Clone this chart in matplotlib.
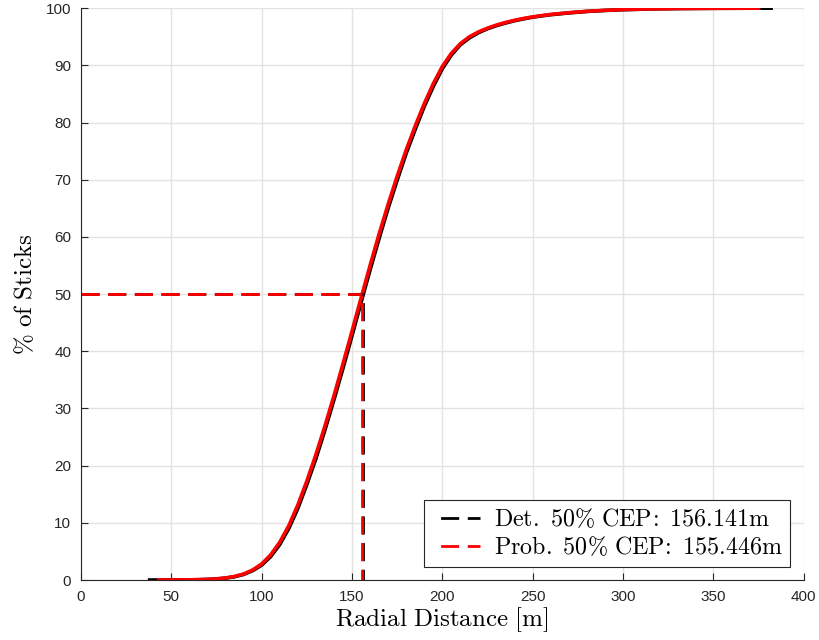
import matplotlib
matplotlib.use("Agg")
import matplotlib.pyplot as plt

plt.rcParams['mathtext.fontset'] = 'cm'
plt.rcParams['font.family'] = ['Liberation Sans', 'DejaVu Sans']

# CDF curves (radial distance [m], % of sticks)
det_x = [37, 50, 60, 65, 70, 75, 80, 85, 90, 95, 100, 105, 110, 115, 120, 125, 130,
         135, 140, 145, 150, 155, 160, 165, 170, 175, 180, 185, 190, 195, 200, 205,
         210, 215, 220, 225, 230, 235, 240, 245, 250, 255, 260, 270, 280, 290, 300,
         315, 330, 350, 383]
det_y = [0, 0.01, 0.03, 0.05, 0.1, 0.18, 0.33, 0.57, 0.97, 1.63, 2.6, 4.1, 6.2, 9.0,
         12.5, 16.7, 21.2, 26.2, 31.5, 37.0, 42.7, 48.5, 54.2, 59.7, 65.0, 69.9, 74.6,
         78.8, 82.8, 86.3, 89.4, 91.8, 93.6, 94.8, 95.7, 96.4, 96.95, 97.4, 97.8, 98.13,
         98.42, 98.65, 98.85, 99.17, 99.42, 99.6, 99.73, 99.86, 99.93, 99.97, 100]

prob_x = [42, 50, 60, 65, 70, 75, 80, 85, 90, 95, 100, 105, 110, 115, 120, 125, 130,
          135, 140, 145, 150, 155, 160, 165, 170, 175, 180, 185, 190, 195, 200, 205,
          210, 215, 220, 225, 230, 235, 240, 245, 250, 255, 260, 270, 280, 290, 300,
          315, 330, 350, 376]
prob_y = [0, 0.01, 0.03, 0.06, 0.11, 0.2, 0.36, 0.62, 1.05, 1.75, 2.8, 4.4, 6.6, 9.5,
          13.1, 17.3, 21.9, 26.9, 32.2, 37.8, 43.5, 49.3, 55.0, 60.5, 65.7, 70.6, 75.2,
          79.4, 83.3, 86.8, 89.8, 92.1, 93.8, 95.0, 95.85, 96.5, 97.05, 97.5, 97.88, 98.2,
          98.47, 98.7, 98.9, 99.2, 99.45, 99.62, 99.75, 99.87, 99.94, 99.98, 100]

det_cep = 156.141
prob_cep = 155.446
level = 50

fig = plt.figure(figsize=(8.2, 6.4), dpi=100)
ax = fig.add_axes([0.0988, 0.09375, 0.8812, 0.8935])

ax.plot(det_x, det_y, color='black', lw=2.6, solid_capstyle='butt', solid_joinstyle='round')
ax.plot(prob_x, prob_y, color='red', lw=2.6, solid_capstyle='butt', solid_joinstyle='round')

for cep, col, name in [(det_cep, 'black', 'Det.'), (prob_cep, 'red', 'Prob.')]:
    ax.plot([0, cep], [level, level], color=col, lw=2.0, linestyle=(0, (6.5, 3.1)))
    lab = r'$\mathrm{%s\ 50\%%\ CEP\!:\ %.3fm}$' % (name, cep)
    ax.plot([cep, cep], [level, 0], color=col, lw=2.0, linestyle=(6.5, (6.5, 3.1)),
            label=lab)

ax.set_xlim(0, 400)
ax.set_ylim(0, 100)
ax.set_xticks(range(0, 401, 50))
ax.set_yticks(range(0, 101, 10))
ax.grid(True, color='#e3e3e3', lw=1.0)
ax.set_axisbelow(True)

for s in ['top', 'right']:
    ax.spines[s].set_visible(False)
for s in ['left', 'bottom']:
    ax.spines[s].set_color('#262626')
    ax.spines[s].set_linewidth(0.8)
ax.tick_params(direction='in', length=5, width=0.8, color='#262626',
               labelcolor='#262626', labelsize=11, pad=7)

ax.set_xlabel(r'$\mathrm{Radial\ Distance\ [m]}$', fontsize=18, labelpad=1)
ax.set_ylabel(r'$\mathrm{\%\ of\ Sticks}$', fontsize=18, labelpad=6)

leg = ax.legend(loc='lower right', fontsize=17.3, frameon=True, fancybox=False,
                borderaxespad=0.55, handlelength=2.0, borderpad=0.3,
                labelspacing=0.2, handletextpad=0.6)
leg.get_frame().set_edgecolor('#262626')
leg.get_frame().set_linewidth(0.8)
leg.get_frame().set_alpha(1.0)

fig.savefig('out.png', dpi=100)
